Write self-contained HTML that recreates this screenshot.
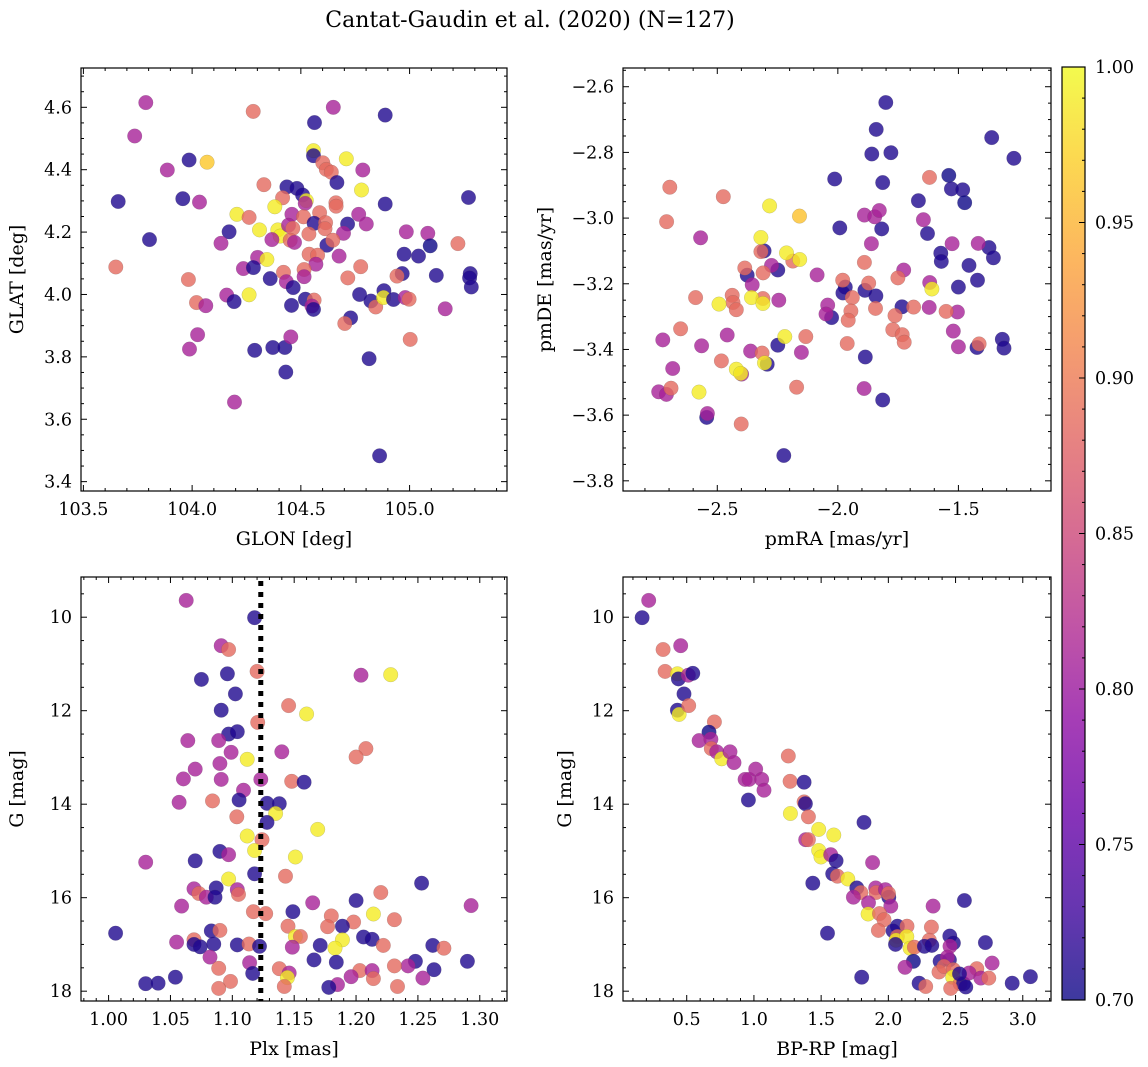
<!DOCTYPE html>
<html><head><meta charset="utf-8">
<style>
html,body{margin:0;padding:0;background:#fff;}
svg{display:block;font-family:"DejaVu Serif","Liberation Serif",serif;}
</style></head>
<body>
<svg id="fig" width="1148" height="1067" viewBox="0 0 1148 1067" xmlns="http://www.w3.org/2000/svg">
<text x="530" y="27" font-size="22" text-anchor="middle">Cantat-Gaudin et al. (2020) (N=127)</text>
</svg>
<script>
// ---- Panel 1: GLON vs GLAT ----
const p1x=[103.787,103.736,103.886,103.66,103.804,103.649,103.986,104.069,103.957,104.034,104.281,104.563,104.649,104.888,104.558,104.558,104.709,104.601,104.617,104.64,104.785,104.666,104.779,104.33,104.436,104.482,104.416,104.508,104.525,104.52,104.38,104.661,104.662,104.888,105.271,104.206,104.262,104.459,104.512,104.586,104.561,104.614,104.715,104.766,104.801,104.31,104.394,104.405,104.17,104.133,104.443,104.463,104.451,104.471,104.367,104.537,104.611,104.696,104.62,104.647,104.538,104.577,104.569,104.676,104.301,104.344,104.236,104.282,104.359,104.42,104.433,104.465,104.515,104.515,104.775,104.716,104.77,104.822,104.844,104.882,104.88,104.926,104.966,104.942,104.98,104.998,104.975,105.041,104.985,105.084,105.095,105.222,105.123,105.279,105.276,105.284,105.164,103.983,104.02,104.063,104.159,104.193,104.262,104.521,104.561,104.551,104.558,104.457,104.729,104.702,105.003,104.025,103.988,104.288,104.371,104.426,104.454,104.431,104.814,104.195,104.862];
const p1y=[4.615,4.508,4.399,4.298,4.176,4.088,4.431,4.424,4.307,4.296,4.587,4.551,4.6,4.575,4.461,4.445,4.435,4.422,4.401,4.392,4.399,4.359,4.335,4.352,4.345,4.34,4.31,4.319,4.301,4.292,4.281,4.294,4.283,4.29,4.311,4.257,4.247,4.257,4.249,4.262,4.228,4.23,4.226,4.257,4.226,4.207,4.207,4.187,4.201,4.164,4.222,4.212,4.174,4.167,4.176,4.194,4.211,4.196,4.158,4.174,4.129,4.126,4.097,4.123,4.119,4.112,4.083,4.086,4.051,4.071,4.041,4.022,4.08,4.057,4.089,4.053,4.0,3.979,3.96,4.012,3.99,3.984,4.067,4.059,3.99,3.985,4.129,4.123,4.201,4.196,4.156,4.163,4.061,4.067,4.053,4.024,3.954,4.048,3.974,3.964,3.998,3.977,3.999,3.985,3.982,3.963,3.952,3.965,3.925,3.907,3.856,3.871,3.825,3.821,3.83,3.83,3.864,3.751,3.794,3.655,3.483];
const p1c=[0.81,0.81,0.81,0.71,0.71,0.885,0.71,0.965,0.71,0.81, 0.885,0.71,0.81,0.71,0.99,0.71,0.99,0.885,0.885,0.885, 0.81,0.71,0.99,0.885,0.71,0.71,0.885,0.71,0.99,0.81, 0.99,0.885,0.885,0.71,0.71,0.99,0.885,0.81,0.885,0.885, 0.71,0.885,0.71,0.81,0.81,0.99,0.99,0.99,0.71,0.81, 0.81,0.885,0.885,0.81,0.81,0.885,0.885,0.81,0.71,0.885, 0.885,0.885,0.81,0.81,0.81,0.99,0.81,0.71,0.71,0.885, 0.81,0.71,0.885,0.81,0.885,0.885,0.71,0.71,0.885,0.71, 0.99,0.71,0.71,0.885,0.81,0.885,0.71,0.71,0.81,0.81, 0.7,0.885,0.71,0.71,0.71,0.71,0.81,0.885,0.885,0.81, 0.81,0.71,0.99,0.71,0.885,0.81,0.71,0.71,0.71,0.885, 0.885,0.81,0.81,0.71,0.71,0.71,0.81,0.71,0.71,0.81, 0.71];
const p1xTicks=[103.5,104.0,104.5,105.0];
const p1yTicks=[3.4,3.6,3.8,4.0,4.2,4.4,4.6];

// ---- Panel 2: pmRA vs pmDE ----
const p2x=[-1.801,-1.841,-1.859,-1.780,-1.814,-2.013,-1.362,-1.270,-1.540,-1.529,-1.482,-1.474,-1.666,-1.992,-1.818,-1.628,-1.573,-1.571,-1.456,-1.373,-1.355,-1.421,-1.5,-1.734,-1.842,-1.888,-1.969,-1.979,-2.026,-1.886,-1.814,-1.318,-1.311,-1.423,-2.306,-2.249,-2.376,-2.249,-2.293,-2.544,-2.224,
-1.890,-1.847,-1.828,-1.861,-1.645,-1.526,-1.418,-1.727,-1.619,-1.621,-1.504,-1.521,-1.5,-1.891,-2.042,-2.049,-2.086,-2.245,-2.275,-2.355,-2.362,-2.459,-2.399,-2.565,-2.569,-2.685,-2.726,-2.743,-2.711,-2.541,-2.151,
-2.697,-2.710,-2.475,-1.620,-2.590,-2.652,-2.692,-2.483,-2.438,-2.435,-2.421,-2.386,-2.310,-2.319,-2.311,-2.314,-2.401,-2.187,-2.171,-2.133,-1.980,-1.940,-1.946,-1.957,-1.961,-1.890,-1.872,-1.844,-1.751,-1.763,-1.772,-1.733,-1.725,-1.686,-1.551,-1.414,
-2.283,-2.159,-2.319,-2.213,-2.158,-2.493,-2.358,-2.311,-2.220,-2.421,-2.403,-2.304,-2.576,-1.610];
const p2y=[-2.648,-2.730,-2.805,-2.801,-2.892,-2.881,-2.755,-2.818,-2.870,-2.911,-2.914,-2.953,-2.947,-3.030,-3.033,-3.047,-3.107,-3.132,-3.144,-3.090,-3.121,-3.189,-3.21,-3.270,-3.237,-3.220,-3.21,-3.228,-3.303,-3.423,-3.554,-3.369,-3.396,-3.394,-3.100,-3.158,-3.174,-3.387,-3.445,-3.607,-3.723,
-2.991,-2.996,-2.977,-3.078,-3.005,-3.078,-3.077,-3.158,-3.196,-3.272,-3.286,-3.344,-3.392,-3.519,-3.265,-3.292,-3.173,-3.250,-3.144,-3.203,-3.405,-3.356,-3.475,-3.389,-3.060,-3.458,-3.371,-3.529,-3.537,-3.595,-3.409,
-2.906,-3.011,-2.935,-2.876,-3.242,-3.337,-3.518,-3.435,-3.235,-3.257,-3.279,-3.152,-3.167,-3.102,-3.245,-3.411,-3.627,-3.131,-3.515,-3.361,-3.189,-3.242,-3.283,-3.311,-3.382,-3.135,-3.198,-3.275,-3.182,-3.297,-3.340,-3.355,-3.378,-3.271,-3.284,-3.383,
-2.963,-2.994,-3.059,-3.106,-3.126,-3.262,-3.242,-3.260,-3.361,-3.460,-3.473,-3.441,-3.530,-3.216];
const p2c=[0.71,0.71,0.71,0.71,0.71,0.71,0.71,0.71,0.7,0.71,0.71,0.7,0.71,0.71,0.71,0.71,0.71,0.71,0.71,0.71,0.71,0.71,0.71,0.71,0.71,0.71,0.71,0.71,0.71,0.71,0.71,0.71,0.71,0.71,0.71,0.71,0.71,0.71,0.71,0.71,0.71,
0.81,0.81,0.81,0.81,0.81,0.81,0.81,0.81,0.81,0.81,0.81,0.81,0.81,0.81,0.81,0.81,0.81,0.81,0.81,0.81,0.81,0.81,0.81,0.81,0.81,0.81,0.81,0.81,0.81,0.81,0.81,
0.885,0.885,0.885,0.885,0.885,0.885,0.885,0.885,0.885,0.885,0.885,0.885,0.885,0.885,0.885,0.885,0.885,0.885,0.885,0.885,0.885,0.885,0.885,0.885,0.885,0.885,0.885,0.885,0.885,0.885,0.885,0.885,0.885,0.885,0.885,0.885,
0.99,0.96,0.99,0.99,0.99,0.99,0.99,0.99,0.99,0.99,0.99,0.99,0.99,0.99];
const p2xTicks=[-2.5,-2.0,-1.5];
const p2yTicks=[-3.8,-3.6,-3.4,-3.2,-3.0,-2.8,-2.6];

// ---- Panel 3: Plx vs G ----
const p3x=[1.0627,1.118,1.091,1.097,1.096,1.120,1.075,1.204,1.228,1.1025,1.1455,1.160,1.091,1.1205,1.097,1.104,1.064,1.089,1.099,1.140,1.208,1.200,1.112,1.070,1.090,1.0605,1.091,1.123,1.148,1.158,1.109,1.057,1.084,1.1055,1.128,1.138,1.135,1.1036,1.128,1.112,1.169,1.124,1.118,1.090,1.097,1.151,1.030,1.070,1.118,1.143,1.097,1.253,1.069,1.073,1.079,1.087,1.086,1.104,1.105,1.220,1.200,1.059,1.165,1.293,1.117,1.127,1.149,1.180,1.214,1.198,1.231,1.177,1.189,1.145,1.0057,1.083,1.090,1.151,1.155,1.189,1.183,1.206,1.213,1.222,1.055,1.069,1.069,1.074,1.085,1.104,1.1135,1.122,1.1485,1.171,1.262,1.271,1.082,1.166,1.184,1.290,1.248,1.242,1.231,1.114,1.089,1.138,1.263,1.203,1.213,1.1165,1.146,1.1445,1.214,1.196,1.254,1.054,1.030,1.040,1.0985,1.089,1.142,1.185,1.178,1.2335];
const p3y=[9.64,10.01,10.61,10.69,11.21,11.16,11.33,11.24,11.23,11.64,11.89,12.07,11.99,12.25,12.50,12.45,12.64,12.64,12.89,12.88,12.81,12.99,13.04,13.25,13.13,13.46,13.47,13.47,13.51,13.53,13.70,13.96,13.93,13.91,13.98,13.99,14.20,14.27,14.39,14.68,14.54,14.76,14.99,15.01,15.08,15.13,15.24,15.21,15.49,15.54,15.60,15.69,15.81,15.91,15.99,15.79,15.99,15.83,15.93,15.89,16.06,16.18,16.11,16.17,16.30,16.34,16.30,16.39,16.35,16.52,16.47,16.62,16.61,16.61,16.76,16.71,16.70,16.83,16.83,16.90,17.08,16.84,16.89,17.02,16.95,16.90,17.00,17.05,16.99,17.01,16.99,17.04,17.06,17.02,17.02,17.08,17.27,17.33,17.38,17.36,17.36,17.46,17.46,17.39,17.51,17.52,17.54,17.56,17.56,17.62,17.61,17.71,17.73,17.69,17.72,17.70,17.84,17.83,17.79,17.94,17.90,17.86,17.92,17.90];
const p3c=[0.81,0.71,0.81,0.885,0.71,0.885,0.71,0.81,0.99,0.71, 0.885,0.99,0.71,0.885,0.71,0.71,0.81,0.81,0.81,0.81, 0.885,0.885,0.99,0.81,0.81,0.81,0.81,0.81,0.885,0.71, 0.81,0.81,0.885,0.71,0.71,0.71,0.99,0.885,0.71,0.99, 0.99,0.885,0.99,0.71,0.81,0.99,0.81,0.71,0.71,0.885, 0.99,0.71,0.81,0.885,0.81,0.71,0.71,0.81,0.885,0.885, 0.71,0.81,0.81,0.81,0.885,0.885,0.71,0.885,0.99,0.885, 0.885,0.885,0.71,0.885,0.71,0.71,0.885,0.99,0.885,0.99, 0.99,0.71,0.71,0.885,0.81,0.885,0.71,0.71,0.71,0.71, 0.885,0.71,0.81,0.71,0.71,0.885,0.81,0.71,0.71,0.71, 0.71,0.81,0.885,0.81,0.885,0.885,0.71,0.885,0.81,0.71, 0.81,0.99,0.885,0.81,0.81,0.71,0.71,0.71,0.885,0.885, 0.885,0.81,0.71,0.885];
const p3xTicks=[1.00,1.05,1.10,1.15,1.20,1.25,1.30];
const gTicks=[10,12,14,16,18];
const plxCut=[1.123];

// ---- Panel 4: BP-RP vs G ----
const p4x=[0.217,0.168,0.324,0.455,0.339,0.431,0.438,0.512,0.545,0.480,0.431,0.443,0.515,0.706,0.666,0.592,0.680,0.683,0.723,0.760,0.822,0.852,0.934,0.964,1.013,1.058,1.075,0.959,1.256,1.269,1.373,1.373,1.383,1.405,1.271,1.819,1.482,1.594,1.385,1.405,1.482,1.499,1.571,1.611,1.883,1.586,1.621,1.698,1.438,1.765,1.795,1.740,1.906,1.909,1.978,2.003,2.001,1.852,2.018,2.566,2.333,1.849,1.934,1.968,1.926,2.067,2.035,2.139,2.320,1.547,2.067,2.058,2.137,2.053,2.162,2.194,2.305,2.268,2.323,2.457,2.484,2.459,2.722,2.186,2.124,2.385,2.454,2.439,2.377,2.414,2.484,2.479,2.534,2.559,2.576,2.464,2.658,2.601,2.688,2.747,2.772,2.229,2.278,1.802,2.921,3.057,2.529];
const p4y=[9.64,10.01,10.69,10.61,11.16,11.21,11.32,11.24,11.20,11.64,11.99,12.08,11.89,12.24,12.46,12.64,12.61,12.81,12.88,13.03,12.88,13.11,13.47,13.47,13.25,13.47,13.70,13.91,12.97,13.51,13.53,13.95,13.99,14.27,14.20,14.39,14.54,14.66,14.76,14.76,14.99,15.13,15.08,15.21,15.25,15.49,15.54,15.60,15.69,15.79,15.89,15.99,15.79,15.89,15.83,15.99,15.91,16.11,16.18,16.06,16.18,16.35,16.34,16.47,16.70,16.61,16.71,16.61,16.63,16.76,16.83,16.91,16.83,17.00,17.08,17.06,16.91,17.04,17.02,16.82,16.97,17.04,16.96,17.36,17.49,17.36,17.33,17.27,17.59,17.47,17.54,17.70,17.84,17.84,17.91,17.94,17.52,17.61,17.72,17.72,17.40,17.83,17.90,17.70,17.83,17.69,17.63];
const p4c=[0.81,0.71,0.885,0.81,0.885,0.99,0.71,0.81,0.71,0.71, 0.71,0.99,0.885,0.885,0.7,0.81,0.81,0.885,0.81,0.99, 0.81,0.81,0.81,0.81,0.81,0.81,0.81,0.71,0.885,0.885, 0.71,0.885,0.71,0.885,0.99,0.71,0.99,0.99,0.81,0.885, 0.99,0.99,0.81,0.71,0.81,0.71,0.885,0.99,0.71,0.71, 0.885,0.81,0.81,0.885,0.81,0.71,0.885,0.81,0.81,0.71, 0.81,0.99,0.885,0.885,0.885,0.71,0.71,0.885,0.885,0.71, 0.885,0.99,0.99,0.71,0.99,0.885,0.885,0.71,0.71,0.71, 0.71,0.81,0.71,0.7,0.81,0.71,0.71,0.81,0.885,0.885, 0.885,0.99,0.885,0.71,0.71,0.885,0.885,0.81,0.81,0.885, 0.81,0.71,0.885,0.71,0.71,0.71,0.71];
const p4xTicks=[0.5,1.0,1.5,2.0,2.5,3.0];

// ---- Colorbar ----
const cbTicks=[0.70,0.75,0.80,0.85,0.90,0.95,1.00];
const cbRange=[0.70,1.00];

const NS='http://www.w3.org/2000/svg';
const svg=document.getElementById('fig');
const plasma=[[13,8,135],[65,4,157],[106,0,168],[143,13,164],[177,42,144],[204,71,120],[225,100,98],[242,132,75],[252,166,54],[252,206,37],[240,249,33]];
function cmap(v){
  let t=(v-cbRange[0])/(cbRange[1]-cbRange[0]); t=Math.max(0,Math.min(1,t));
  const f=t*10, i=Math.min(9,Math.floor(f)), r=f-i, a=plasma[i], b=plasma[i+1];
  return 'rgb('+[0,1,2].map(k=>Math.round(a[k]+(b[k]-a[k])*r)).join(',')+')';
}
function mk(tag,attrs,parent){const e=document.createElementNS(NS,tag);for(const k in attrs)e.setAttribute(k,attrs[k]);(parent||svg).appendChild(e);return e;}
function fmt(v,d){const s=Math.abs(v).toFixed(d);return (v<-1e-9?'\u2212':'')+s;}

function panel(cfg){
  const g=mk('g',{});
  
  
  const sx=v=>cfg.bx[0]+(v-cfg.dx[0])/(cfg.dx[1]-cfg.dx[0])*(cfg.bx[1]-cfg.bx[0]);
  const sy=v=>cfg.invY? cfg.by[0]+(v-cfg.dy[0])/(cfg.dy[1]-cfg.dy[0])*(cfg.by[1]-cfg.by[0])
                      : cfg.by[1]-(v-cfg.dy[0])/(cfg.dy[1]-cfg.dy[0])*(cfg.by[1]-cfg.by[0]);
  const n=Math.min(cfg.xs.length,cfg.ys.length,cfg.cs.length);
  for(let i=0;i<n;i++){
    const c=mk('circle',{cx:sx(cfg.xs[i]).toFixed(1),cy:sy(cfg.ys[i]).toFixed(1),r:7.3,fill:cmap(cfg.cs[i]),'fill-opacity':0.8,stroke:'#555','stroke-width':0.3,'stroke-opacity':0.5},g);
    
    
  }
  if(cfg.vline){
    for(const v of cfg.vline){
      const l=mk('line',{x1:sx(v),x2:sx(v),y1:cfg.by[0]+4,y2:cfg.by[1],stroke:'#000','stroke-width':5,'stroke-dasharray':'5 6'},g);
      
      
    }
  }
  const fr=mk('rect',{x:cfg.bx[0],y:cfg.by[0],width:cfg.bx[1]-cfg.bx[0],height:cfg.by[1]-cfg.by[0],fill:'none',stroke:'#000','stroke-width':1.2},g);
  
  
  const [xl,xr]=cfg.dx;
  for(let k=Math.ceil(xl/cfg.xminor-1e-6);k*cfg.xminor<=xr+1e-9;k++){
    const v=k*cfg.xminor, px=sx(v);
    const major=cfg.xt.some(t=>Math.abs(t-v)<1e-6);
    const L=major?6:3;
    mk('line',{x1:px,x2:px,y1:cfg.by[1],y2:cfg.by[1]-L,stroke:'#000','stroke-width':1},g);
    mk('line',{x1:px,x2:px,y1:cfg.by[0],y2:cfg.by[0]+L,stroke:'#000','stroke-width':1},g);
  }
  cfg.xt.forEach(v=>{
    const t=mk('text',{x:sx(v),y:cfg.by[1]+24,'font-size':17.5,'text-anchor':'middle'},g);
    t.textContent=fmt(v,cfg.xd);
    
    
  });
  const [ylo,yhi]=cfg.dy;
  for(let k=Math.ceil(ylo/cfg.yminor-1e-6);k*cfg.yminor<=yhi+1e-9;k++){
    const v=k*cfg.yminor, py=sy(v);
    const major=cfg.yt.some(t=>Math.abs(t-v)<1e-6);
    const L=major?6:3;
    mk('line',{x1:cfg.bx[0],x2:cfg.bx[0]+L,y1:py,y2:py,stroke:'#000','stroke-width':1},g);
    mk('line',{x1:cfg.bx[1],x2:cfg.bx[1]-L,y1:py,y2:py,stroke:'#000','stroke-width':1},g);
  }
  cfg.yt.forEach(v=>{
    const t=mk('text',{x:cfg.bx[0]-9,y:sy(v)+6,'font-size':17.5,'text-anchor':'end'},g);
    t.textContent=fmt(v,cfg.yd);
    
    
  });
  const xt=mk('text',{x:(cfg.bx[0]+cfg.bx[1])/2,y:cfg.by[1]+54,'font-size':19,'text-anchor':'middle'},g);
  xt.textContent=cfg.xlabel;
  
  
  const yx=cfg.ylabelX, ym=(cfg.by[0]+cfg.by[1])/2;
  const yt=mk('text',{x:yx,y:ym,'font-size':19,'text-anchor':'middle',transform:'rotate(-90 '+yx+' '+ym+')'},g);
  yt.textContent=cfg.ylabel;
  
  
}

panel({name:'glon-glat-panel',bx:[81,507],by:[68,491],dx:[103.489,105.448],dy:[3.370,4.726],xs:p1x,ys:p1y,cs:p1c,xt:p1xTicks,yt:p1yTicks,xminor:0.1,yminor:0.05,xd:1,yd:1,xlabel:'GLON [deg]',ylabel:'GLAT [deg]',ylabelX:23});
panel({name:'proper-motion-panel',bx:[623,1051],by:[68,491],dx:[-2.891,-1.116],dy:[-3.831,-2.543],xs:p2x,ys:p2y,cs:p2c,xt:p2xTicks,yt:p2yTicks,xminor:0.1,yminor:0.05,xd:1,yd:1,xlabel:'pmRA [mas/yr]',ylabel:'pmDE [mas/yr]',ylabelX:551});
panel({name:'parallax-magnitude-panel',bx:[81,507],by:[577,1001],dx:[0.9777,1.322],dy:[9.14,18.21],invY:true,xs:p3x,ys:p3y,cs:p3c,xt:p3xTicks,yt:gTicks,xminor:0.01,yminor:0.5,xd:2,yd:0,xlabel:'Plx [mas]',ylabel:'G [mag]',ylabelX:23,vline:plxCut});
panel({name:'cmd-panel',bx:[623,1051],by:[577,1001],dx:[0.026,3.21],dy:[9.14,18.21],invY:true,xs:p4x,ys:p4y,cs:p4c,xt:p4xTicks,yt:gTicks,xminor:0.1,yminor:0.5,xd:1,yd:0,xlabel:'BP-RP [mag]',ylabel:'G [mag]',ylabelX:571});

(function(){
  const g=mk('g',{});
  
  
  const defs=mk('defs',{},g);
  const lg=mk('linearGradient',{id:'cbg',x1:0,y1:1,x2:0,y2:0},defs);
  plasma.forEach((c,i)=>mk('stop',{offset:(i/10),'stop-color':'rgb('+c.join(',')+')'},lg));
  const X0=1062,X1=1085,Y0=67,Y1=1000;
  mk('rect',{x:X0,y:Y0,width:X1-X0,height:Y1-Y0,fill:'url(#cbg)','fill-opacity':0.8},g);
  mk('rect',{x:X0,y:Y0,width:X1-X0,height:Y1-Y0,fill:'none',stroke:'#000','stroke-width':1.2},g);
  const sy=v=>Y1-(v-cbRange[0])/(cbRange[1]-cbRange[0])*(Y1-Y0);
  for(let k=Math.round(cbRange[0]*100);k<=Math.round(cbRange[1]*100);k++){
    const v=k/100, major=(k%5===0), L=major?6:3;
    mk('line',{x1:X1,x2:X1-L,y1:sy(v),y2:sy(v),stroke:'#000','stroke-width':1},g);
  }
  cbTicks.forEach(v=>{
    const t=mk('text',{x:X1+10,y:sy(v)+6,'font-size':17.5},g);
    t.textContent=v.toFixed(2);
    
    
  });
})();
</script>
</body></html>
